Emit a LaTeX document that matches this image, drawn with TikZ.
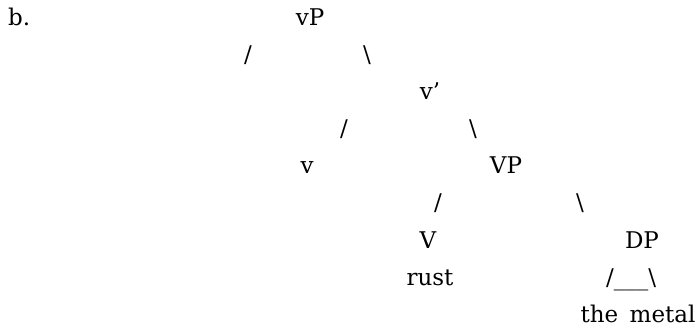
\documentclass[tikz,border=0pt]{standalone}
\usepackage{fontspec}
\setmainfont{DejaVu Serif}
\usepackage{tikz}

\begin{document}
\begin{tikzpicture}[x=1pt, y=-1pt,
    word/.style={anchor=base, inner sep=0pt, font=\fontsize{23}{27}\selectfont}
]
\useasboundingbox (0,0) rectangle (699,330);
\node[word, anchor=base west] (label) at (8,25) {b.};
\node[word] (vP) at (310,25) {vP};
\node[word] (vPl) at (248,62) {/};
\node[word] (vPr) at (367,62) {\textbackslash};
\node[word] (vbar) at (430,99) {v’};
\node[word] (vbarl) at (344,136) {/};
\node[word] (vbarr) at (473,136) {\textbackslash};
\node[word] (v) at (307,173) {v};
\node[word] (VP) at (506,173) {VP};
\node[word] (VPl) at (438,210) {/};
\node[word] (VPr) at (580,210) {\textbackslash};
\node[word] (V) at (428,248) {V};
\node[word] (DP) at (642,248) {DP};
\node[word] (rust) at (430,285) {rust};
\node[word] (roof) at (631,285) {/\_\_\_\textbackslash};
\node[word] (metal) at (638,322) {the\hspace{0.5em}metal};
\end{tikzpicture}
\end{document}
